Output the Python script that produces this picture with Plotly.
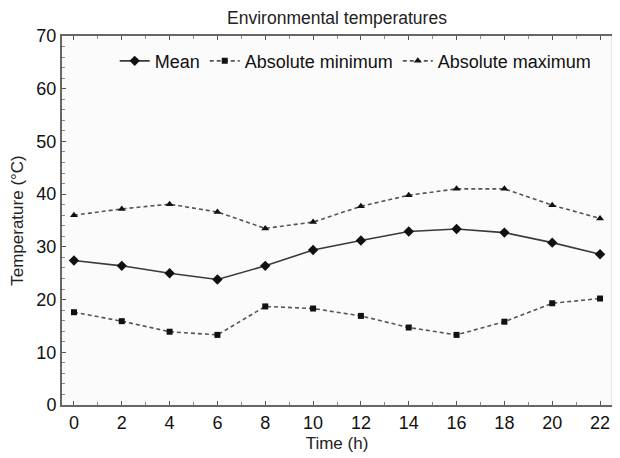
import plotly.graph_objects as go

hours = [0, 2, 4, 6, 8, 10, 12, 14, 16, 18, 20, 22]
mean_t = [27.4, 26.4, 25.0, 23.8, 26.4, 29.4, 31.2, 32.9, 33.4, 32.7, 30.8, 28.6]
abs_min = [17.6, 15.9, 13.9, 13.3, 18.7, 18.3, 16.9, 14.7, 13.3, 15.8, 19.3, 20.2]
abs_max = [36.0, 37.2, 38.1, 36.6, 33.5, 34.7, 37.7, 39.8, 41.0, 41.0, 37.9, 35.4]
y_ticks = [0, 10, 20, 30, 40, 50, 60, 70]
x_ticks = hours

FONT = "Liberation Sans, Arial, sans-serif"
W, H = 612, 450  # page body has an 8px margin

fig = go.Figure()
fig.add_trace(go.Scatter(x=hours, y=mean_t, name="Mean", mode="lines+markers",
                         line=dict(color="#3a3a3a", width=1.6),
                         marker=dict(symbol="diamond", size=8, color="#111111")))
fig.add_trace(go.Scatter(x=hours, y=abs_min, name="Absolute minimum", mode="lines+markers",
                         line=dict(color="#555555", width=1.6, dash="4px,3px"),
                         marker=dict(symbol="square", size=6, color="#111111")))
fig.add_trace(go.Scatter(x=hours, y=abs_max, name="Absolute maximum", mode="lines+markers",
                         line=dict(color="#555555", width=1.6, dash="4px,3px"),
                         marker=dict(symbol="triangle-up", size=7, color="#111111")))

fig.update_layout(
    width=W, height=H,
    margin=dict(l=54, r=8, t=28, b=53, autoexpand=False),
    paper_bgcolor="white", plot_bgcolor="#fbfbfb",
    font=dict(family=FONT, size=18, color="#111111"),
    title=dict(text="Environmental temperatures", x=0.5, xref="paper", xanchor="center",
               y=1 - 10 / H, yref="container", yanchor="middle",
               font=dict(size=17.5, color="#222222")),
    showlegend=True,
    legend=dict(orientation="h", x=0.534, xanchor="center", y=0.982, yanchor="top",
                bgcolor="rgba(0,0,0,0)", font=dict(size=18, color="#111111"),
                itemwidth=30, tracegroupgap=0),
    shapes=[dict(type="line", xref="paper", yref="paper", x0=1, x1=1, y0=0, y1=1,
                 line=dict(color="#d4d4d4", width=1))],
)
fig.update_xaxes(range=[-0.5, 22.5], tickvals=x_ticks, ticks="inside", ticklen=4,
                 tickcolor="#555555", showgrid=False, zeroline=False,
                 showline=True, linecolor="#666666", linewidth=2, mirror="ticks",
                 minor=dict(dtick=1, ticks="inside", ticklen=3, tickcolor="#888888"),
                 tickfont=dict(size=18, color="#111111"),
                 title=dict(text="Time (h)", font=dict(size=17, color="#222222"), standoff=6))
fig.update_yaxes(range=[0, 70], tickvals=y_ticks, ticks="inside", ticklen=4,
                 tickcolor="#555555", showgrid=False, zeroline=False,
                 showline=True, linecolor="#666666", linewidth=2, mirror=False,
                 minor=dict(dtick=2, ticks="inside", ticklen=3, tickcolor="#888888"),
                 tickfont=dict(size=18, color="#111111"),
                 title=dict(text="Temperature (°C)", font=dict(size=17, color="#222222"), standoff=9))

fig.write_html("out.html")
